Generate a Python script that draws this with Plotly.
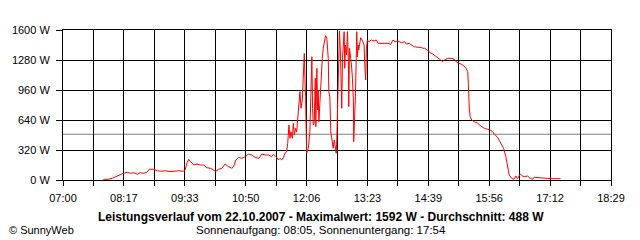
import plotly.graph_objects as go

# time in minutes since midnight, power in W
times = [
    470.7, 477.0, 482.0, 488.3, 492.4, 495.8, 500.8, 504.6, 509.2, 513.3,
    517.1, 521.7, 525.9, 528.4, 534.2, 538.4, 542.5, 548.4, 554.7, 559.3,
    565.6, 571.0, 573.5, 576.0, 578.1, 580.1, 582.2, 584.4, 588.5, 592.6,
    596.9, 601.0, 605.2, 609.4, 611.4, 615.7, 619.8, 623.9, 628.2, 632.3,
    634.5, 637.3, 640.7, 644.9, 649.0, 653.3, 657.4, 661.5, 666.5, 669.9,
    674.1, 678.3, 682.4, 684.6, 688.7, 690.8, 692.8, 695.0, 697.1, 699.1,
    701.2, 702.5, 704.1, 705.4, 706.6, 708.4, 709.6, 710.9, 712.5, 713.8,
    715.0, 716.6, 717.9, 719.2, 720.9, 722.2, 723.4, 724.2, 725.0, 726.3,
    728.4, 730.4, 731.7, 732.9, 733.8, 734.7, 735.9, 737.2, 737.9, 739.2,
    740.1, 740.9, 741.7, 743.5, 744.7, 746.0, 747.2, 748.5, 750.1, 751.7,
    753.5, 754.2, 755.5, 756.7, 758.5, 759.7, 761.0, 762.2, 763.5, 764.3,
    765.1, 766.4, 767.6, 768.9, 769.8, 770.5, 771.4, 772.6, 773.5, 774.3,
    775.1, 776.4, 777.7, 778.9, 779.3, 780.2, 781.4, 782.7, 783.9, 785.2,
    785.5, 786.4, 787.7, 788.5, 789.3, 790.2, 791.1, 791.8, 793.1, 794.3,
    796.1, 797.3, 798.6, 799.3, 800.6, 801.5, 802.7, 804.3, 807.7, 811.1,
    814.0, 816.1, 820.2, 824.4, 828.6, 831.9, 834.9, 837.8, 841.2, 845.3,
    849.4, 851.6, 855.7, 857.8, 862.0, 866.2, 870.4, 872.5, 874.5, 877.9,
    880.8, 885.0, 889.1, 893.3, 897.5, 899.5, 903.8, 907.9, 912.1, 914.2,
    918.3, 922.6, 926.7, 928.9, 929.6, 929.9, 930.9, 932.1, 933.9, 937.1,
    941.4, 945.5, 949.7, 953.9, 957.2, 960.2, 962.2, 966.4, 970.6, 974.0,
    976.8, 979.0, 981.0, 984.0, 987.2, 989.4, 991.5, 994.8, 997.8, 1000.6,
    1004.0, 1007.3, 1010.3, 1012.3, 1016.5, 1024.8, 1029.1, 1033.2, 1045.7,
]
power = [
    7, 7, 18, 43, 61, 71, 82, 71, 78, 61,
    78, 71, 85, 114, 114, 99, 93, 99, 89, 96,
    99, 93, 107, 185, 221, 195, 185, 160, 171, 160,
    160, 131, 125, 107, 89, 114, 125, 171, 142, 125,
    142, 213, 242, 231, 249, 277, 267, 242, 231, 277,
    267, 267, 249, 274, 242, 213, 231, 213, 238, 285,
    302, 391, 587, 445, 515, 445, 605, 480, 551, 515,
    675, 835, 942, 765, 853, 1120, 1351, 1085, 889, 285,
    338, 515, 942, 1315, 765, 587, 622, 1085, 569, 1191,
    747, 960, 622, 907, 1227, 1298, 1405, 1475, 1539, 1512,
    1298, 942, 889, 515, 373, 338, 427, 320, 285, 445,
    693, 1333, 1592, 1333, 800, 765, 1298, 1440, 1582, 1191,
    1440, 1333, 1582, 1227, 782, 1405, 1333, 1227, 1085, 835,
    409, 587, 889, 1227, 1582, 1315, 1440, 1387, 1493, 1518,
    1493, 1458, 1440, 1262, 1067, 1405, 1493, 1475, 1493, 1483,
    1493, 1458, 1458, 1465, 1458, 1447, 1493, 1475, 1483, 1465,
    1475, 1451, 1458, 1440, 1422, 1415, 1415, 1405, 1405, 1387,
    1362, 1344, 1315, 1288, 1262, 1280, 1298, 1298, 1288, 1262,
    1245, 1227, 1191, 1155, 1031, 853, 747, 675, 640, 622,
    605, 576, 551, 541, 533, 515, 491, 455, 398, 338,
    249, 160, 53, 18, 7, 43, 14, 64, 43, 35,
    43, 18, 7, 29, 25, 25, 18, 14, 14,
]
average_w = 488
x_labels = ["07:00", "08:17", "09:33", "10:50", "12:06",
            "13:23", "14:39", "15:56", "17:12", "18:29"]
y_ticks = [0, 320, 640, 960, 1280, 1600]
title_text = "Leistungsverlauf vom 22.10.2007 - Maximalwert: 1592 W - Durchschnitt: 488 W"
sub_text = "Sonnenaufgang: 08:05, Sonnenuntergang: 17:54"
credit_text = "© SunnyWeb"

X0, X1 = 420, 1109
n_grid = 18
grid_vals = [X0 + k * (X1 - X0) / n_grid for k in range(n_grid + 1)]
grid_text = [x_labels[k // 2] if k % 2 == 0 else "" for k in range(n_grid + 1)]

W, H = 640, 240
L, R, T, B = 61, 29, 30, 60
PW, PH = W - L - R, H - T - B

def fx(px):
    return (px - L) / PW

def fy(py):
    return (T + PH - py) / PH

FONT = "Liberation Sans, Arial, sans-serif"

fig = go.Figure()
fig.add_trace(go.Scatter(x=times, y=power, mode="lines",
                         line=dict(color="#ff0000", width=1),
                         hoverinfo="skip", showlegend=False))

fig.add_shape(type="line", xref="paper", x0=0, x1=1, yref="y",
              y0=average_w, y1=average_w,
              line=dict(color="#808080", width=1), layer="below")

fig.update_layout(
    width=W, height=H,
    margin=dict(l=L, r=R, t=T, b=B, pad=0),
    paper_bgcolor="white", plot_bgcolor="white",
    font=dict(family=FONT, size=11, color="black"),
    showlegend=False,
    xaxis=dict(range=[X0, X1], tickmode="array", tickvals=grid_vals,
               ticktext=grid_text, showgrid=True, gridcolor="black",
               gridwidth=1, ticks="outside", ticklen=5, tickcolor="black",
               tickwidth=1, showline=True, linecolor="black", linewidth=1,
               mirror=True, zeroline=False, ticklabelstandoff=3,
               tickfont=dict(family=FONT, size=11, color="black")),
    yaxis=dict(range=[0, 1600], tickmode="array", tickvals=y_ticks,
               ticktext=[f"{v} W" for v in y_ticks], showgrid=True,
               gridcolor="black", gridwidth=1, ticks="outside", ticklen=6,
               tickcolor="black", tickwidth=1, showline=True,
               linecolor="black", linewidth=1, mirror=True, zeroline=False,
               ticklabelstandoff=4,
               tickfont=dict(family=FONT, size=11, color="black")),
    annotations=[
        dict(text="<b>" + title_text + "</b>", xref="paper", yref="paper",
             x=fx(320), y=fy(217), xanchor="center", yanchor="middle",
             showarrow=False, font=dict(family=FONT, size=12, color="black")),
        dict(text=sub_text, xref="paper", yref="paper",
             x=fx(320), y=fy(230), xanchor="center", yanchor="middle",
             showarrow=False, font=dict(family=FONT, size=11.5, color="black")),
        dict(text=credit_text, xref="paper", yref="paper",
             x=fx(5), y=fy(229.5), xanchor="left", yanchor="middle",
             showarrow=False, font=dict(family=FONT, size=11, color="black")),
    ],
)

fig.write_html("out.html")
